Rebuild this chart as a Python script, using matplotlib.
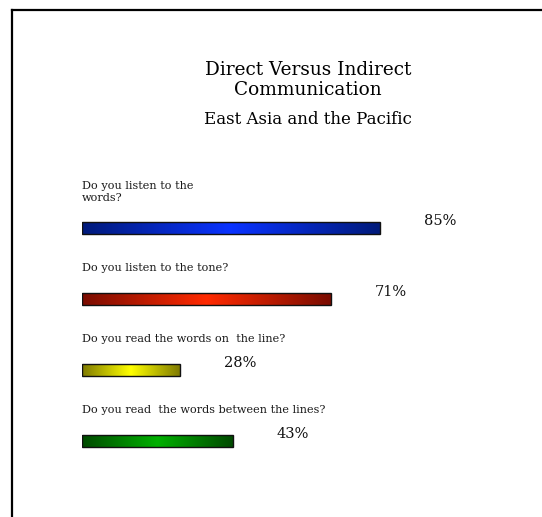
#!/usr/bin/env python3
"""Direct vs indirect communication chart (East Asia and the Pacific)."""

import matplotlib
matplotlib.use("Agg")
import matplotlib.pyplot as plt
from matplotlib.colors import LinearSegmentedColormap
from matplotlib.lines import Line2D
import numpy as np

QUESTIONS = [
    "Do you listen to the\nwords?",
    "Do you listen to the tone?",
    "Do you read the words on  the line?",
    "Do you read  the words between the lines?",
]
VALUES = [85, 71, 28, 43]
# (end colour, middle colour) for the gradient fill of each bar
EDGE_COLORS = ["#001a7a", "#7a0c00", "#7f7a00", "#004a00"]
MID_COLORS = ["#0a33ff", "#ff2a00", "#ffff00", "#00b000"]

plt.rcParams["font.family"] = ["DejaVu Serif"]

W, H = 542, 517
fig = plt.figure(figsize=(W / 100, H / 100), dpi=100)
fig.patch.set_facecolor("white")

# axes placed in pixel terms: x from 82px, y rows ~71px apart
x0, px_per_unit = 82, 3.5
row = 70.8
top = 228.4 - row / 2
ax = fig.add_axes([x0 / W, 1 - (top + 4 * row) / H, 100 * px_per_unit / W, 4 * row / H])
ax.set_xlim(0, 100)
ax.set_ylim(3.5, -0.5)
ax.axis("off")

bar_h = 12 / row
y = np.arange(len(VALUES))
bars = ax.barh(y, VALUES, height=bar_h, color="none", edgecolor="#111111", linewidth=1.0, zorder=3)

t = np.linspace(0, 1, 256)
grad = 1 - np.abs(2 * t - 1)
for b, c0, c1 in zip(bars, EDGE_COLORS, MID_COLORS):
    cmap = LinearSegmentedColormap.from_list("g", [c0, c1])
    x, yb = b.get_x(), b.get_y()
    im = ax.imshow(grad[None, :], cmap=cmap, aspect="auto", extent=[x, x + b.get_width(), yb + b.get_height(), yb], zorder=2)
    im.set_clip_path(b)

for i, (q, v) in enumerate(zip(QUESTIONS, VALUES)):
    ax.annotate(q, xy=(0, i), xytext=(0, 20), textcoords="offset points", ha="left", va="baseline", fontsize=8.1, color="#1a1a1a", linespacing=1.2)
    ax.annotate(f"{v}%", xy=(v, i), xytext=(32, 5), textcoords="offset points", ha="left", va="center", fontsize=10.5, color="#111111")

fig.text(308 / W, 1 - 80 / H, "Direct Versus Indirect\nCommunication", ha="center", va="center", fontsize=13.3, linespacing=1.2)
fig.text(308 / W, 1 - 119 / H, "East Asia and the Pacific", ha="center", va="center", fontsize=12)

# page frame (left and top edges)
fig.add_artist(Line2D([12 / W, 12 / W], [0, 1 - 10 / H], color="black", linewidth=1.6, transform=fig.transFigure))
fig.add_artist(Line2D([12 / W, 1], [1 - 10 / H, 1 - 10 / H], color="black", linewidth=1.6, transform=fig.transFigure))

fig.savefig("out.png", dpi=100)
